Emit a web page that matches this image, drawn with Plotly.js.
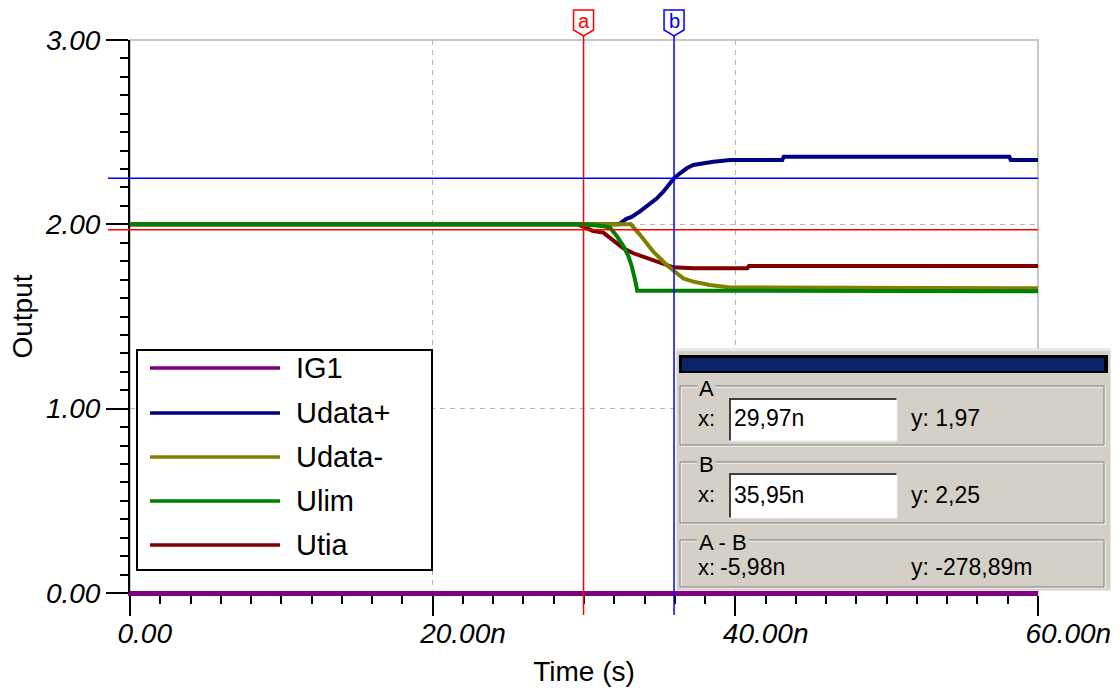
<!DOCTYPE html>
<html><head><meta charset="utf-8">
<script src="https://cdn.plot.ly/plotly-3.0.1.min.js"></script>
<style>html,body{margin:0;padding:0;background:#fff}#chart{width:1120px;height:695px}</style>
</head><body><div id="chart"></div>
<script>
// ---------- data (time in ns, output in V) ----------
const seriesNames  = ['IG1', 'Udata+', 'Udata-', 'Ulim', 'Utia'];
const seriesColors = ['#800080', '#000080', '#808000', '#008000', '#800000'];

const tIG1 = [0, 60];
const vIG1 = [0, 0];

const tUdataPlus = [0, 32.3, 32.8, 33.15, 33.7, 34.25, 34.8, 35.24, 35.95, 36.34, 36.79, 37.22, 37.78, 38.55, 39.65, 43.1, 43.2, 58.1, 58.2, 60];
const vUdataPlus = [2.0, 2.0, 2.03, 2.04, 2.07, 2.105, 2.14, 2.177, 2.25, 2.277, 2.304, 2.322, 2.331, 2.34, 2.349, 2.349, 2.367, 2.367, 2.349, 2.349];

const tUdataMinus = [0, 33.1, 33.7, 34.14, 34.58, 35.02, 35.46, 36.01, 36.56, 37.22, 38.32, 39.65, 60];
const vUdataMinus = [2.0, 2.0, 1.943, 1.897, 1.852, 1.816, 1.78, 1.743, 1.707, 1.689, 1.671, 1.658, 1.653];

const tUlim = [0, 29.97, 31.3, 31.72, 32.16, 32.6, 32.93, 33.15, 33.37, 33.52, 60];
const vUlim = [2.0, 2.0, 1.99, 1.982, 1.937, 1.882, 1.828, 1.774, 1.7, 1.64, 1.637];

const tUtia = [0, 29.6, 30.07, 30.61, 31.28, 31.94, 32.6, 33.26, 34.14, 35.02, 35.9, 37.22, 40.8, 40.9, 60];
const vUtia = [2.0, 2.0, 1.982, 1.964, 1.955, 1.915, 1.87, 1.843, 1.816, 1.789, 1.767, 1.762, 1.762, 1.774, 1.774];

const xTickVals = [0, 20, 40, 60];
const xTickText = ['0.00', '20.00n', '40.00n', '60.00n'];
const yTickVals = [0, 1, 2, 3];
const yTickText = ['0.00', '1.00', '2.00', '3.00'];

const cursorNames = ['a', 'b'];
const cursorX = [29.97, 35.95];
const cursorY = [1.97, 2.25];
const cursorColors = ['#FF0000', '#0000FF'];

const panelGroupLabels = ['A', 'B', 'A - B'];
const panelXTexts = ['29,97n', '35,95n', '-5,98n'];
const panelYTexts = ['y: 1,97', 'y: 2,25', 'y: -278,89m'];

// ---------- helpers (pixel -> paper) ----------
const L = 130, R = 1038, T = 40, B = 593;
const px = x => (x - L) / (R - L);
const py = y => (B - y) / (B - T);
const FONT = 'Liberation Sans, Arial, sans-serif';

// ---------- traces ----------
const seriesT = [tIG1, tUdataPlus, tUdataMinus, tUlim, tUtia];
const seriesV = [vIG1, vUdataPlus, vUdataMinus, vUlim, vUtia];
const drawOrder = [0, 1, 4, 2, 3];
const traces = drawOrder.map(i => ({
  type: 'scatter', mode: 'lines', name: seriesNames[i],
  x: seriesT[i], y: seriesV[i],
  line: {color: seriesColors[i], width: 4},
  hoverinfo: 'skip'
}));

// ---------- shapes & annotations ----------
const shapes = [];
const annotations = [];

// light plot frame
shapes.push({type: 'rect', xref: 'paper', yref: 'paper', x0: 0, x1: 1, y0: 0, y1: 1,
  line: {color: '#C8C8C8', width: 2}, layer: 'below'});

// cursors
cursorX.forEach((cx, k) => {
  const col = cursorColors[k];
  shapes.push({type: 'line', xref: 'x', yref: 'paper', x0: cx, x1: cx, y0: py(615), y1: py(36),
    line: {color: col, width: 1.5}});
  shapes.push({type: 'line', xref: 'paper', yref: 'y', x0: px(108), x1: 1, y0: cursorY[k], y1: cursorY[k],
    line: {color: col, width: 1.5}});
  shapes.push({type: 'path', xref: 'x', yref: 'paper', xsizemode: 'pixel', ysizemode: 'pixel',
    xanchor: cx, yanchor: 1, path: 'M-10,30 L10,30 L10,10 L0,4 L-10,10 Z',
    fillcolor: '#FFFFFF', line: {color: col, width: 1.5}});
  annotations.push({xref: 'x', yref: 'paper', x: cx, y: py(21), text: cursorNames[k], showarrow: false,
    font: {family: FONT, size: 20, color: col}, xanchor: 'center', yanchor: 'middle'});
});

// legend box
shapes.push({type: 'rect', xref: 'paper', yref: 'paper', x0: px(137), x1: px(432), y0: py(570), y1: py(350),
  fillcolor: '#FFFFFF', line: {color: '#000000', width: 2}});
const legendRows = [368, 413, 457, 501, 545];
seriesNames.forEach((nm, i) => {
  shapes.push({type: 'line', xref: 'paper', yref: 'paper', x0: px(150), x1: px(280), y0: py(legendRows[i]), y1: py(legendRows[i]),
    line: {color: seriesColors[i], width: 3.5}});
  annotations.push({xref: 'paper', yref: 'paper', x: px(294), y: py(legendRows[i]), text: nm, showarrow: false,
    xanchor: 'left', yanchor: 'middle', font: {family: FONT, size: 29, color: '#000'}});
});

// cursor readout panel
const GRAY = '#D4D0C8';
shapes.push({type: 'rect', xref: 'paper', yref: 'paper', x0: px(677), x1: px(1110), y0: py(590), y1: py(349),
  fillcolor: GRAY, line: {color: GRAY, width: 1}});
shapes.push({type: 'line', xref: 'paper', yref: 'paper', x0: px(677), x1: px(1110), y0: py(350), y1: py(350),
  line: {color: '#FFFFFF', width: 1}});
shapes.push({type: 'rect', xref: 'paper', yref: 'paper', x0: px(679), x1: px(1108), y0: py(373), y1: py(355),
  fillcolor: '#000000', line: {width: 0}});
shapes.push({type: 'rect', xref: 'paper', yref: 'paper', x0: px(682), x1: px(1104), y0: py(371), y1: py(358),
  fillcolor: '#0A246A', line: {width: 0}});

const groupTop = [386, 462, 540];
const groupBot = [445, 523, 587];
const rowY = [418, 495, 567];
panelGroupLabels.forEach((lab, k) => {
  shapes.push({type: 'rect', xref: 'paper', yref: 'paper', x0: px(681), x1: px(1105), y0: py(groupBot[k] + 1), y1: py(groupTop[k] + 1),
    line: {color: '#FFFFFF', width: 1}});
  shapes.push({type: 'rect', xref: 'paper', yref: 'paper', x0: px(680), x1: px(1104), y0: py(groupBot[k]), y1: py(groupTop[k]),
    line: {color: '#808080', width: 1}});
  annotations.push({xref: 'paper', yref: 'paper', x: px(697), y: py(groupTop[k] + 2), text: lab, showarrow: false,
    xanchor: 'left', yanchor: 'middle', bgcolor: GRAY, borderpad: 1,
    font: {family: FONT, size: 22, color: '#000'}});
  annotations.push({xref: 'paper', yref: 'paper', x: px(696), y: py(rowY[k]), text: 'x:', showarrow: false,
    xanchor: 'left', yanchor: 'middle', font: {family: FONT, size: 22, color: '#000'}});
  annotations.push({xref: 'paper', yref: 'paper', x: px(909), y: py(rowY[k]), text: panelYTexts[k], showarrow: false,
    xanchor: 'left', yanchor: 'middle', font: {family: FONT, size: 23, color: '#000'}});
});
// input boxes for A and B
const boxTop = [398, 473], boxBot = [441, 518];
[0, 1].forEach(k => {
  shapes.push({type: 'rect', xref: 'paper', yref: 'paper', x0: px(729), x1: px(897), y0: py(boxBot[k]), y1: py(boxTop[k]),
    fillcolor: '#FFFFFF', line: {width: 0}});
  shapes.push({type: 'path', xref: 'paper', yref: 'paper',
    path: `M${px(730)},${py(boxBot[k])} L${px(730)},${py(boxTop[k] + 1)} L${px(897)},${py(boxTop[k] + 1)}`,
    line: {color: '#404040', width: 2}});
  shapes.push({type: 'path', xref: 'paper', yref: 'paper',
    path: `M${px(897)},${py(boxTop[k])} L${px(897)},${py(boxBot[k])} L${px(729)},${py(boxBot[k])}`,
    line: {color: '#F0F0F0', width: 1}});
});
panelXTexts.forEach((t, k) => {
  annotations.push({xref: 'paper', yref: 'paper', x: px(k < 2 ? 732 : 718), y: py(rowY[k]), text: t, showarrow: false,
    xanchor: 'left', yanchor: 'middle', font: {family: FONT, size: 23, color: '#000'}});
});

// ---------- layout ----------
const tickFont = {family: FONT, size: 28, style: 'italic', color: '#000'};
const layout = {
  width: 1120, height: 695,
  margin: {l: 130, r: 82, t: 40, b: 102, pad: 0},
  paper_bgcolor: '#FFFFFF', plot_bgcolor: '#FFFFFF',
  showlegend: false,
  font: {family: FONT, color: '#000'},
  xaxis: {
    range: [0, 60], tickmode: 'array', tickvals: xTickVals, ticktext: xTickText,
    ticks: 'outside', ticklen: 20, tickwidth: 2, tickcolor: '#000',
    showline: true, linecolor: '#800080', linewidth: 3,
    showgrid: true, gridcolor: '#B4B4B4', gridwidth: 1, griddash: '5px,5px', zeroline: false,
    tickfont: tickFont, ticklabelposition: 'outside right', ticklabelshift: -15, ticklabelstandoff: 13,
    minor: {tickmode: 'linear', tick0: 0, dtick: 2, ticks: 'outside', ticklen: 8, tickwidth: 2, tickcolor: '#000', showgrid: false},
    title: {text: 'Time (s)', font: {family: FONT, size: 28, color: '#000'}, standoff: 14},
    fixedrange: true
  },
  yaxis: {
    range: [0, 3], tickmode: 'array', tickvals: yTickVals, ticktext: yTickText,
    ticks: 'outside', ticklen: 22, tickwidth: 2, tickcolor: '#000',
    showline: true, linecolor: '#000', linewidth: 2,
    showgrid: true, gridcolor: '#B4B4B4', gridwidth: 1, griddash: '5px,5px', zeroline: false,
    tickfont: tickFont, ticklabelstandoff: 0,
    minor: {tickmode: 'linear', tick0: 0, dtick: 0.1, ticks: 'outside', ticklen: 8, tickwidth: 2, tickcolor: '#000', showgrid: false},
    title: {text: 'Output', font: {family: FONT, size: 28, color: '#000'}, standoff: 4},
    fixedrange: true
  },
  shapes: shapes,
  annotations: annotations
};

Plotly.newPlot('chart', traces, layout, {displayModeBar: false, staticPlot: true});
</script>
</body></html>
